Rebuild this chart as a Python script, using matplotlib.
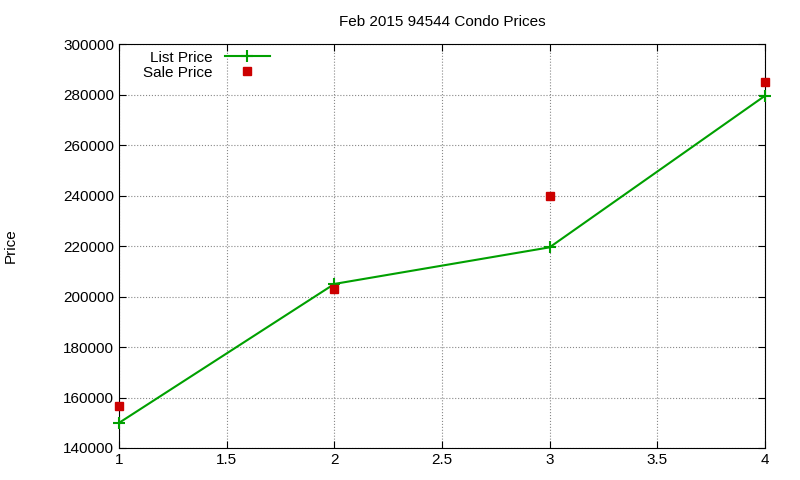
import matplotlib
matplotlib.use("Agg")
import matplotlib.pyplot as plt

plt.rcParams["font.family"] = ["Liberation Sans", "DejaVu Sans"]

weeks = [1, 2, 3, 4]
list_price = [150000, 205000, 219500, 279500]
sale_price = [156500, 203000, 240000, 285000]

fig = plt.figure(figsize=(8, 4.8), dpi=100)
ax = fig.add_axes([0.149, 0.0667, 0.807, 0.8413])

ax.plot(weeks, list_price, "-+", color="#00a000", lw=1.5, ms=8, mew=1.5,
        label="List Price", clip_on=False, zorder=3)
ax.plot(weeks, sale_price, "s", color="#cc0000", ms=6, ls="none",
        label="Sale Price", clip_on=False, zorder=4)

ax.set_xlim(1, 4)
ax.set_ylim(140000, 300000)
ax.set_xticks([1, 1.5, 2, 2.5, 3, 3.5, 4])
ax.set_xticklabels(["1", "1.5", "2", "2.5", "3", "3.5", "4"])
ax.set_yticks(range(140000, 300001, 20000))
ax.tick_params(labelsize=11, direction="in", length=5, top=True, right=True)
ax.grid(True, color="#888888", ls=":", lw=0.8)
ax.set_ylabel("Price", fontsize=11, labelpad=33)
ax.set_title("Feb 2015 94544 Condo Prices", fontsize=11, pad=13)
ax.legend(loc="upper left", markerfirst=False, frameon=False, fontsize=11,
          handlelength=3, borderaxespad=0.3, labelspacing=0.05, bbox_to_anchor=(0.02, 1.01))

fig.savefig("out.png")
